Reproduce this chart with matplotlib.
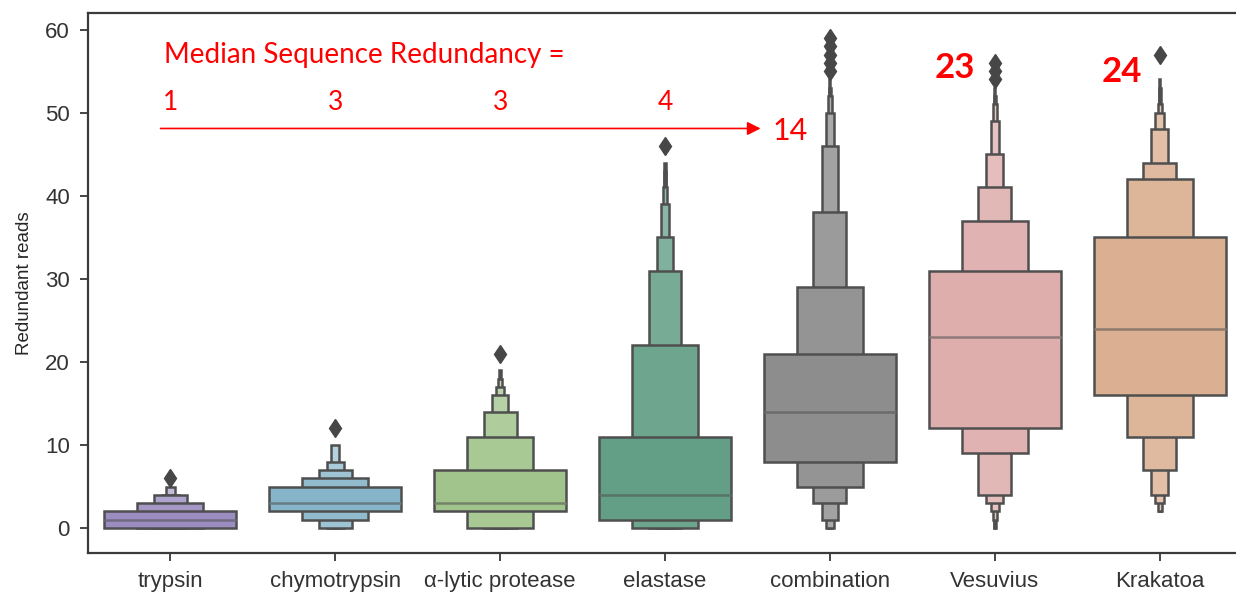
import matplotlib
matplotlib.use("Agg")
import matplotlib.pyplot as plt
import matplotlib.colors as mcolors
import numpy as np

# ---------------- data ----------------
categories = ["trypsin", "chymotrypsin", "\u03b1-lytic protease", "elastase",
              "combination", "Vesuvius", "Krakatoa"]
medians = [1, 3, 3, 4, 14, 23, 24]

# letter-value box ends, innermost (IQR) first, outward
lower_trypsin = [0, 0, 0, 0, 0]
upper_trypsin = [2, 3, 4, 4, 5]
lower_chymo = [2, 1, 0, 0, 0]
upper_chymo = [5, 6, 7, 8, 10]
lower_alpha = [2, 0, 0, 0, 0, 0, 0]
upper_alpha = [7, 11, 14, 16, 17, 18, 19]
lower_elastase = [1, 0, 0, 0, 0, 0, 0, 0]
upper_elastase = [11, 22, 31, 35, 39, 41, 43, 44]
lower_comb = [8, 5, 3, 1, 0, 0, 0, 0]
upper_comb = [21, 29, 38, 46, 50, 52, 53, 54]
lower_vesuvius = [12, 9, 4, 3, 2, 1, 0, 0]
upper_vesuvius = [31, 37, 41, 45, 49, 51, 52, 53]
lower_krakatoa = [16, 11, 7, 4, 3, 2, 2, 2]
upper_krakatoa = [35, 42, 44, 48, 50, 51, 53, 54]

outliers_trypsin = [6]
outliers_chymo = [12]
outliers_alpha = [21]
outliers_elastase = [46]
outliers_comb = [55, 56, 57, 58, 59]
outliers_vesuvius = [54, 55, 56]
outliers_krakatoa = [57]

base_colors = ["#9B8DC0", "#86B4C9", "#A1C48C", "#639F87",
               "#8D8D8D", "#DEAEAD", "#DBB092"]

ylabel = "Redundant reads"
yticks = [0, 10, 20, 30, 40, 50, 60]

annot_title = "Median Sequence Redundancy ="
annot_values = ["1", "3", "3", "4"]
annot_combination = "14"
annot_vesuvius = "23"
annot_krakatoa = "24"

lowers = [lower_trypsin, lower_chymo, lower_alpha, lower_elastase,
          lower_comb, lower_vesuvius, lower_krakatoa]
uppers = [upper_trypsin, upper_chymo, upper_alpha, upper_elastase,
          upper_comb, upper_vesuvius, upper_krakatoa]
outliers = [outliers_trypsin, outliers_chymo, outliers_alpha, outliers_elastase,
            outliers_comb, outliers_vesuvius, outliers_krakatoa]

# ---------------- plot ----------------
W, H = 1236, 592
fig = plt.figure(figsize=(W / 100, H / 100), dpi=100)
ax = fig.add_axes([88 / W, 1 - 553 / H, (1242 - 88) / W, (553 - 13) / H])

edge = "#4f4f4f"
white = np.array([1.0, 1.0, 1.0])

for xi, (lo, up, med, outs, col) in enumerate(zip(lowers, uppers, medians, outliers, base_colors)):
    base = np.array(mcolors.to_rgb(col))
    n = len(lo)
    for i in range(n - 1, -1, -1):
        w = 0.8 * 0.5 ** i
        frac = 0.5 * i / n
        c = base + (white - base) * frac
        ax.bar(xi, up[i] - lo[i], bottom=lo[i], width=w, color=c,
               edgecolor=edge, linewidth=1.8, zorder=2 + (n - i) * 0.01)
    medc = base * 0.45 + np.array(mcolors.to_rgb(edge)) * 0.55
    ax.hlines(med, xi - 0.4, xi + 0.4, color=medc, linewidth=1.8, zorder=3)
    ax.plot([xi] * len(outs), outs, linestyle="none", marker="d",
            color="#474747", markersize=9.5, zorder=4)

ax.set_xlim(-0.5, 6.5)
ax.set_ylim(-3, 62)
ax.set_xticks(range(len(categories)))
ax.set_xticklabels(categories)
ax.set_yticks(yticks)
ax.set_ylabel(ylabel, fontsize=13.5, color="#262626", family="Liberation Sans",
              labelpad=9)
for lab in ax.get_xticklabels() + ax.get_yticklabels():
    lab.set_family("Liberation Sans")
    lab.set_fontsize(16)
    lab.set_color("#333333")
ax.tick_params(axis="x", pad=7)
ax.tick_params(axis="y", pad=7)
ax.tick_params(axis="both", direction="out", length=6, width=1.2, color="#262626")
for s in ax.spines.values():
    s.set_color("#3a3a3a")
    s.set_linewidth(1.6)

red = "#FF0000"
afont = "Lato"
ax.text(-0.04, 57.0, annot_title, color=red, fontsize=20, family=afont,
        ha="left", va="center")
for xi, t in enumerate(annot_values):
    ax.text(xi, 51.2, t, color=red, fontsize=19, family=afont,
            ha="center", va="center")
ax.annotate("", xy=(3.58, 48.1), xytext=(-0.06, 48.1),
            arrowprops=dict(arrowstyle="-|>", color=red, lw=1.2,
                            mutation_scale=20, shrinkA=0, shrinkB=0))
ax.text(3.65, 47.8, annot_combination, color=red, fontsize=22, family=afont,
        ha="left", va="center")
ax.text(4.76, 55.4, annot_vesuvius, color=red, fontsize=25, family=afont,
        fontweight="bold", ha="center", va="center")
ax.text(5.77, 54.9, annot_krakatoa, color=red, fontsize=25, family=afont,
        fontweight="bold", ha="center", va="center")

fig.savefig("out.png", dpi=100)
